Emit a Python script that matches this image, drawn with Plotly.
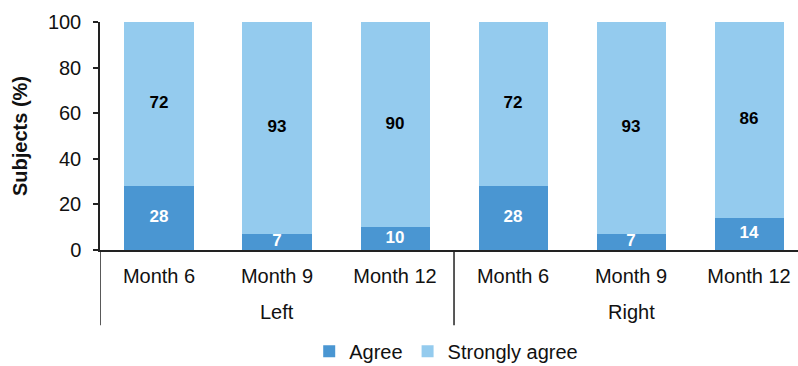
import plotly.graph_objects as go

months = ["Month 6", "Month 9", "Month 12", "Month 6", "Month 9", "Month 12"]
groups = ["Left", "Right"]
agree = [28, 7, 10, 28, 7, 14]
strongly_agree = [72, 93, 90, 72, 93, 86]
yticks = [0, 20, 40, 60, 80, 100]

c_agree = "#4A96D2"
c_strong = "#94CBEE"
font = "Liberation Sans, Arial, sans-serif"

x = list(range(len(months)))
fig = go.Figure()
fig.add_trace(go.Bar(x=x, y=agree, name="Agree", marker=dict(color=c_agree, line=dict(width=0)), width=0.585))
fig.add_trace(go.Bar(x=x, y=strongly_agree, name="Strongly agree", marker=dict(color=c_strong, line=dict(width=0)), width=0.585))

# data labels
fig.add_trace(go.Scatter(x=x, y=[a / 2 for a in agree], text=[str(a) for a in agree], mode="text",
                         textfont=dict(color="white", size=17, family=font, weight="bold"),
                         showlegend=False, hoverinfo="skip", cliponaxis=False))
fig.add_trace(go.Scatter(x=x, y=[a + s / 2 for a, s in zip(agree, strongly_agree)], text=[str(s) for s in strongly_agree],
                         mode="text", textfont=dict(color="black", size=17, family=font, weight="bold"),
                         showlegend=False, hoverinfo="skip", cliponaxis=False))

# group divider lines
for xv in [-0.5, 2.5, 5.5]:
    fig.add_shape(type="line", xref="x", yref="paper", x0=xv, x1=xv, y0=0, y1=-0.33,
                  line=dict(color="#222222", width=1.5))

for i, g in enumerate(groups):
    fig.add_annotation(x=1 + 3 * i, y=-0.274, xref="x", yref="paper", text=g, showarrow=False,
                       font=dict(size=20, family=font, color="#111111"), yanchor="middle")

fig.update_layout(
    barmode="stack",
    width=798, height=366,
    margin=dict(l=100, r=0, t=22, b=116, autoexpand=False),
    plot_bgcolor="white", paper_bgcolor="white",
    font=dict(family=font, color="#111111", size=20),
    bargap=0,
    legend=dict(orientation="h", x=0.496, xanchor="center", yref="container", y=0.04, yanchor="middle",
                font=dict(size=20, family=font), itemwidth=30, traceorder="normal"),
    xaxis=dict(range=[-0.5, 5.415], tickvals=x, ticktext=months, showline=True, linecolor="#222222",
               linewidth=1.5, ticks="", showgrid=False, zeroline=False, tickfont=dict(size=20),
               ticklabelstandoff=7, automargin=False),
    yaxis=dict(range=[0, 100], tickvals=yticks, showline=True, linecolor="#222222", linewidth=1.5,
               ticks="outside", ticklen=5, tickcolor="#222222", tickwidth=1.5, showgrid=False, zeroline=False,
               tickfont=dict(size=20), ticklabelstandoff=8, automargin=False,
               title=dict(text="<b>Subjects (%)</b>", font=dict(size=20, family=font), standoff=15)),
)

fig.write_html("out.html")
